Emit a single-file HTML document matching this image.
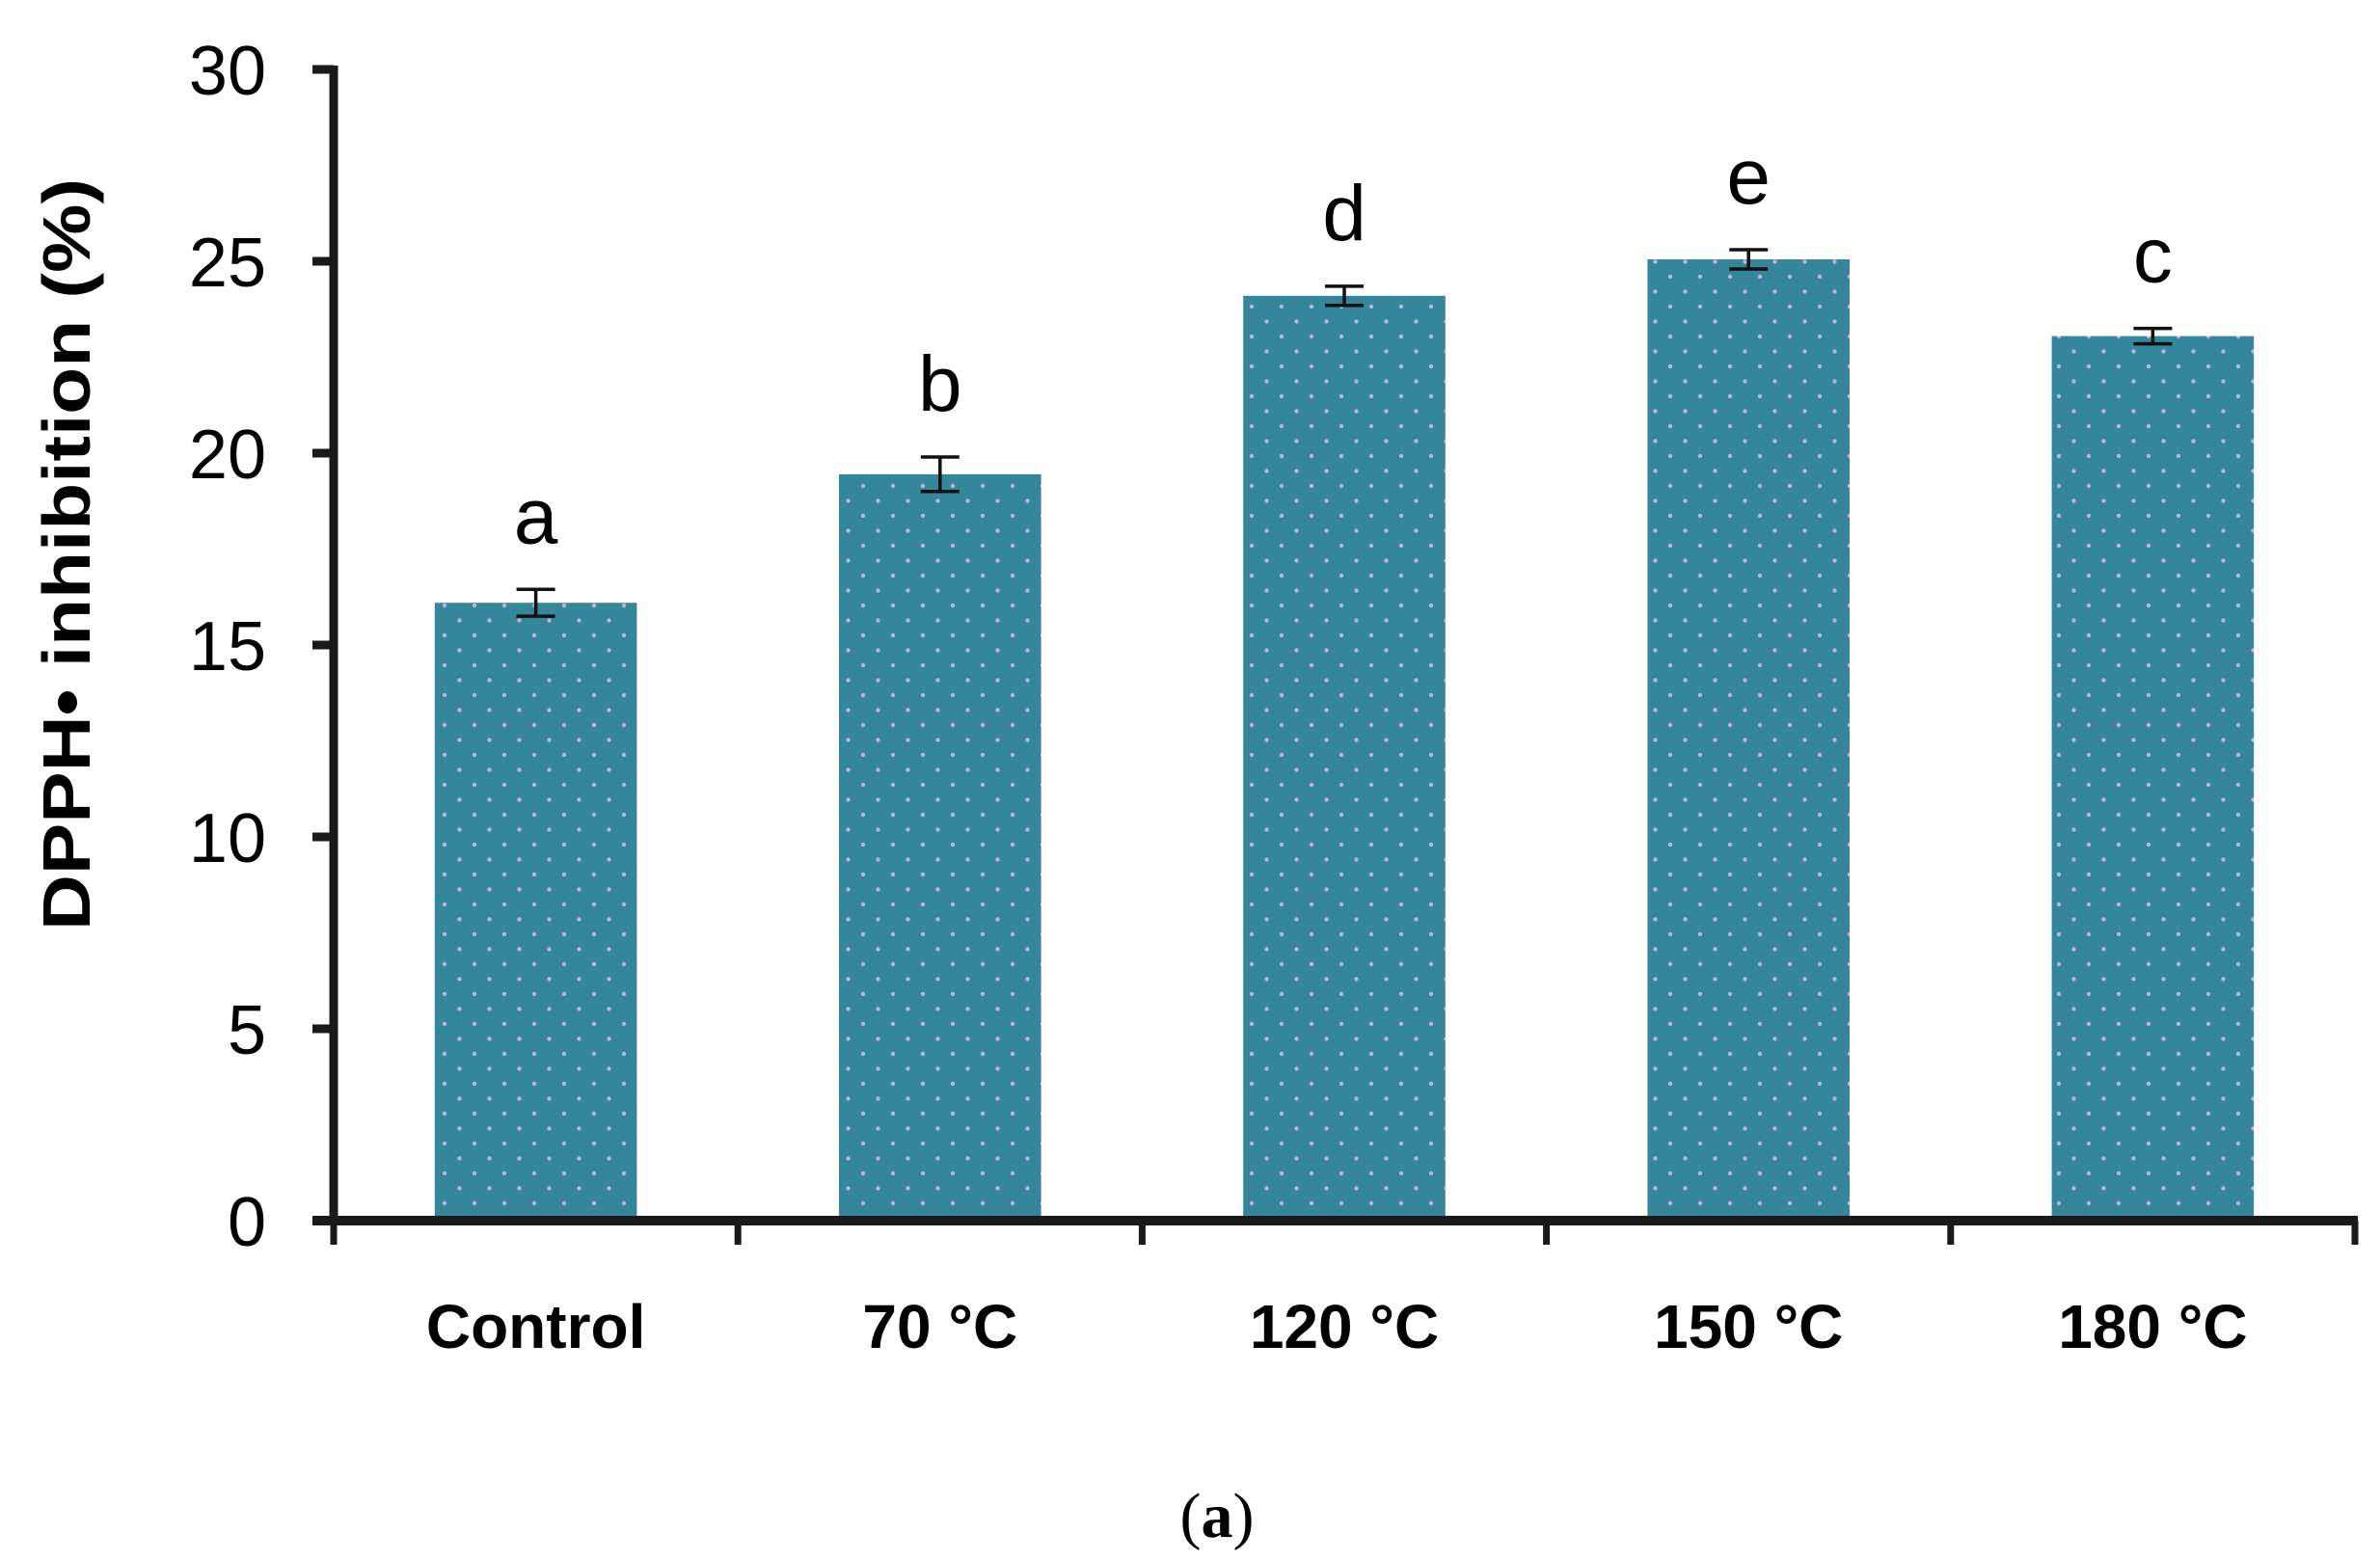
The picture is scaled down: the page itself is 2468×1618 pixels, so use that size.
<!DOCTYPE html>
<html><head><meta charset="utf-8"><style>
html,body{margin:0;padding:0;background:#fff;}
svg{display:block;}
</style></head><body>
<svg id="chart" width="2468" height="1618" viewBox="0 0 2468 1618" xmlns="http://www.w3.org/2000/svg">
<defs>
<pattern id="dots" patternUnits="userSpaceOnUse" width="31" height="31" x="453" y="0">
<rect width="31" height="31" fill="#35869a"/>
<circle cx="8" cy="8" r="2.2" fill="#b7b6dc"/>
<circle cx="23.5" cy="23.5" r="2.2" fill="#b7b6dc"/>
</pattern>
</defs>
<g id="plot"></g>
<text x="0" y="0" transform="translate(93,575) rotate(-90)" text-anchor="middle" font-family="Liberation Sans, sans-serif" font-weight="bold" font-size="70" textLength="780" lengthAdjust="spacingAndGlyphs">DPPH• inhibition (%)</text>
<text x="1262" y="1594" text-anchor="middle" font-family="Liberation Serif, serif" font-size="66">(<tspan font-weight="bold">a</tspan>)</text>
</svg>
<script>
const categories = ["Control", "70 °C", "120 °C", "150 °C", "180 °C"];
const values = [16.1, 19.45, 24.1, 25.05, 23.05];
const errors = [0.35, 0.45, 0.25, 0.25, 0.2];
const letters = ["a", "b", "d", "e", "c"];
const yTicks = [0, 5, 10, 15, 20, 25, 30];

const NS = "http://www.w3.org/2000/svg";
const g = document.getElementById("plot");
const x0 = 346, x1 = 2442, yBase = 1266, yTop = 72, yMax = 30;
const catW = (x1 - x0) / categories.length;
const y = v => yBase - (v / yMax) * (yBase - yTop);
const xc = i => x0 + catW * (i + 0.5);
function mk(tag, attrs) { const e = document.createElementNS(NS, tag); for (const k in attrs) e.setAttribute(k, attrs[k]); g.appendChild(e); return e; }

categories.forEach((c, i) => {
  const bw = catW * 0.5;
  const r = mk("rect", {x: xc(i) - bw / 2, y: y(values[i]), width: bw, height: yBase - y(values[i]), fill: "url(#dots)"});
  
  
  const eTop = y(values[i] + errors[i]), eBot = y(values[i] - errors[i]);
  const eb = mk("path", {d: `M${xc(i)-20},${eTop}H${xc(i)+20}M${xc(i)},${eTop}V${eBot}M${xc(i)-20},${eBot}H${xc(i)+20}`, stroke: "#111", "stroke-width": 3.5, fill: "none"});
  
  
  const lt = mk("text", {x: xc(i), y: eTop - 48, "text-anchor": "middle", "font-family": "Liberation Sans, sans-serif", "font-size": 82});
  lt.textContent = letters[i];
  
  
  const xl = mk("text", {x: xc(i), y: 1398, "text-anchor": "middle", "font-family": "Liberation Sans, sans-serif", "font-weight": "bold", "font-size": 64});
  xl.textContent = c;
  
  
});
for (let i = 0; i <= categories.length; i++) {
  const t = mk("line", {x1: x0 + catW * i, x2: x0 + catW * i, y1: yBase, y2: 1291, stroke: "#1a1a1a", "stroke-width": 7});
  
  
}
yTicks.forEach(v => {
  const t = mk("line", {x1: 324, x2: x0, y1: y(v), y2: y(v), stroke: "#1a1a1a", "stroke-width": 9});
  
  
  const l = mk("text", {x: 276, y: y(v) + 26, "text-anchor": "end", "font-family": "Liberation Sans, sans-serif", "font-size": 72});
  l.textContent = v;
  
  
});
const ya = mk("line", {x1: x0, x2: x0, y1: yTop - 4, y2: yBase + 5, stroke: "#1a1a1a", "stroke-width": 9});


const xa = mk("line", {x1: 324, x2: x1 + 3, y1: yBase, y2: yBase, stroke: "#1a1a1a", "stroke-width": 10});


</script>
</body></html>
